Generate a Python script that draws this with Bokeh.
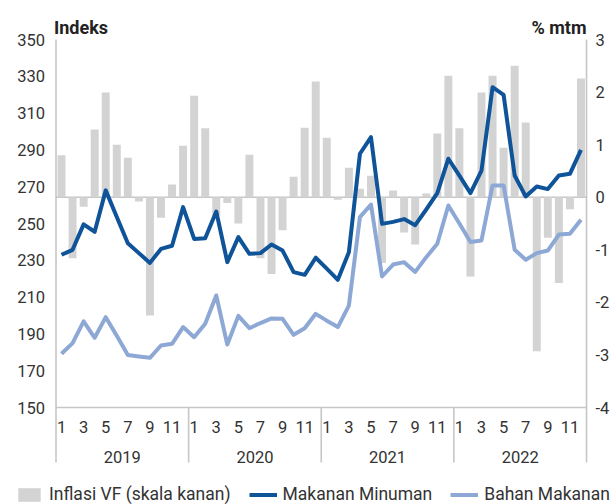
from bokeh.plotting import figure
from bokeh.models import Range1d, Legend, LegendItem, ColumnDataSource
from bokeh.core.properties import value
from bokeh.embed import file_html
from bokeh.resources import INLINE

# ---- data ----
years = ["2019", "2020", "2021", "2022"]
month_labels = ["1", "2", "3", "4", "5", "6", "7", "8", "9", "10", "11", "12"]
left_ticks = [150, 170, 190, 210, 230, 250, 270, 290, 310, 330, 350]
right_ticks = [-4, -3, -2, -1, 0, 1, 2, 3]
axis_titles = ["Indeks", "% mtm"]
series_names = ["Inflasi VF (skala kanan)", "Makanan Minuman", "Bahan Makanan"]

inflasi_vf = [0.80, -1.16, -0.18, 1.29, 1.99, 1.00, 0.75, -0.08, -2.25, -0.39, 0.24, 0.98,
              1.93, 1.31, -0.35, -0.11, -0.50, 0.81, -1.16, -1.46, -0.63, 0.39, 1.32, 2.20,
              1.13, -0.05, 0.56, 0.16, 0.41, -1.25, 0.13, -0.67, -0.90, 0.07, 1.21, 2.31,
              1.31, -1.51, 1.99, 2.31, 0.94, 2.50, 1.42, -2.93, -0.77, -1.63, -0.23, 2.26]

makanan_minuman = [233.0, 235.7, 249.5, 245.5, 268.0, 253.5, 239.3, 233.9, 228.6, 236.2, 237.9, 258.9,
                   241.6, 242.0, 256.5, 229.0, 242.6, 233.5, 233.9, 238.6, 235.3, 223.6, 222.1, 231.4,
                   225.5, 219.4, 234.4, 287.9, 296.9, 249.8, 250.9, 252.4, 249.1, 257.6, 266.5, 285.2,
                   276.0, 266.5, 278.8, 324.1, 319.9, 276.1, 264.7, 270.1, 268.7, 276.1, 277.0, 290.0]

bahan_makanan = [179.2, 185.0, 196.8, 187.9, 199.1, 189.0, 178.5, 177.7, 177.0, 183.7, 184.6, 193.7,
                 188.2, 195.5, 210.9, 184.2, 199.8, 193.1, 195.9, 198.4, 198.2, 189.5, 193.1, 200.9,
                 197.2, 193.7, 205.4, 253.5, 260.3, 221.2, 227.7, 229.0, 223.7, 231.7, 239.0, 259.8,
                 250.0, 239.9, 240.8, 270.7, 270.7, 235.7, 230.3, 233.9, 235.3, 244.0, 244.4, 252.0]

n = len(years) * 12
xs = list(range(1, n + 1))
src = ColumnDataSource(dict(x=xs, vf=inflasi_vf, mm=makanan_minuman, bm=bahan_makanan))

# ---- layout geometry (pixels inside the canvas) ----
W, H = 616, 504
PX_L, PX_R = 55.5, 586.0      # x = 0.5 and x = n + 0.5
PY_T, PY_B = 39.0, 407.0      # top and bottom of the value axes
SEP_DROP = 55.0               # year separators below the axis

YL0, YL1 = left_ticks[0], left_ticks[-1]
YR0, YR1 = right_ticks[0], right_ticks[-1]
kx = (PX_R - PX_L) / n
ky = (PY_B - PY_T) / (YL1 - YL0)
kr = (PY_B - PY_T) / (YR1 - YR0)
x_lo, x_hi = 0.5 - PX_L / kx, n + 0.5 + (W - PX_R) / kx
y_lo, y_hi = YL0 - (H - PY_B) / ky, YL1 + PY_T / ky
r_lo, r_hi = YR0 - (H - PY_B) / kr, YR1 + PY_T / kr
y_sep = YL0 - SEP_DROP / ky

FONT = value("Roboto")
TXT = "#333333"
AXC = "#C6C6C6"
DARK = "#0F5499"
LIGHT = "#8EA8D6"
BAR = "#D3D3D3"

p = figure(frame_width=W, frame_height=H, x_range=Range1d(x_lo, x_hi), y_range=Range1d(y_lo, y_hi),
           output_backend="svg", toolbar_location=None, title_location=None,
           x_axis_type=None, y_axis_type=None, min_border=0)
p.outline_line_color = None
p.background_fill_color = "white"
p.border_fill_color = "white"
p.extra_y_ranges = {"r": Range1d(r_lo, r_hi)}

# zero line of the right scale
p.segment(x0=[0.5], y0=[0], x1=[n + 0.5], y1=[0], y_range_name="r", line_color=AXC, line_width=1.6)

# bars and lines
bars = p.vbar(x="x", top="vf", bottom=0, width=0.72, source=src, y_range_name="r",
              fill_color=BAR, line_color=None)
l_mm = p.line(x="x", y="mm", source=src, line_color=DARK, line_width=4, line_join="round")
l_bm = p.line(x="x", y="bm", source=src, line_color=LIGHT, line_width=4, line_join="round")

# axis lines and year separators
seps = [0.5 + 12 * i for i in range(len(years) + 1)]
sep_top = [YL1 if i in (0, len(seps) - 1) else YL0 for i in range(len(seps))]
p.segment(x0=seps, y0=[y_sep] * len(seps), x1=seps, y1=sep_top, line_color=AXC, line_width=1.6)
p.segment(x0=[0.5], y0=[YL0], x1=[n + 0.5], y1=[YL0], line_color=AXC, line_width=1.6)

# left tick labels
p.text(x=[0.5] * len(left_ticks), y=left_ticks, text=[str(t) for t in left_ticks],
       x_offset=-11, text_align="right", text_baseline="middle",
       text_font=FONT, text_font_size="16.5px", text_color=TXT)
# right tick labels
p.text(x=[n + 0.5] * len(right_ticks), y=right_ticks, text=[str(t) for t in right_ticks],
       y_range_name="r", x_offset=9, text_align="left", text_baseline="middle",
       text_font=FONT, text_font_size="16.5px", text_color=TXT)
# month labels
mx = xs[::2]
p.text(x=mx, y=[YL0] * len(mx), text=[month_labels[(m - 1) % 12] for m in mx],
       y_offset=19, text_align="center", text_baseline="middle",
       text_font=FONT, text_font_size="16.5px", text_color=TXT)
# year labels
yx = [6.5 + 12 * i for i in range(len(years))]
p.text(x=yx, y=[YL0] * len(yx), text=years,
       y_offset=49, text_align="center", text_baseline="middle",
       text_font=FONT, text_font_size="16.5px", text_color=TXT)
# axis titles
p.text(x=[0.5], y=[YL1], text=[axis_titles[0]], x_offset=-2, y_offset=-12,
       text_align="left", text_baseline="alphabetic",
       text_font=FONT, text_font_style="bold", text_font_size="18px", text_color="#222222")
p.text(x=[n + 0.5], y=[YL1], text=[axis_titles[1]], x_offset=0, y_offset=-12,
       text_align="right", text_baseline="alphabetic",
       text_font=FONT, text_font_style="bold", text_font_size="18px", text_color="#222222")

legend = Legend(items=[LegendItem(label=series_names[0], renderers=[bars]),
                       LegendItem(label=series_names[1], renderers=[l_mm]),
                       LegendItem(label=series_names[2], renderers=[l_bm])],
                orientation="horizontal", location=(15, 0),
                glyph_width=28, glyph_height=17, label_standoff=6, spacing=18,
                padding=0, margin=0, border_line_color=None, background_fill_alpha=0,
                label_text_font="Roboto", label_text_font_size="17.5px", label_text_color=TXT)
p.add_layout(legend)

open("out.html", "w").write(file_html(p, INLINE))
